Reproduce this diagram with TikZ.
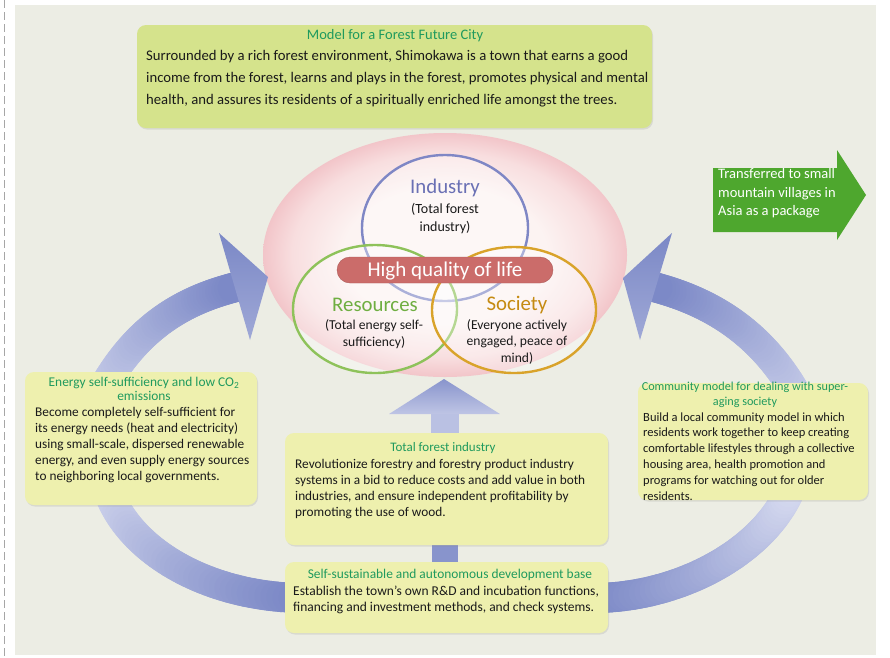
\documentclass[tikz,border=0pt]{standalone}
\usepackage{fontspec}
\setmainfont{Carlito}
\usetikzlibrary{shadows}
\definecolor{panelc}{HTML}{ECEDE4}
\definecolor{topboxc}{HTML}{D5E38C}
\definecolor{boxc}{HTML}{EEF0AE}
\definecolor{titlec}{HTML}{1F9A5E}
\definecolor{txtc}{HTML}{1A1A1A}
\definecolor{bandlight}{HTML}{D5D9EF}
\definecolor{banddark}{HTML}{7B88C6}
\definecolor{pkin}{HTML}{FCF3F2}
\definecolor{pkmid}{HTML}{F8DEDF}
\definecolor{pkout}{HTML}{F2C5C9}
\definecolor{indc}{HTML}{7F87C5}
\definecolor{resc}{HTML}{8EC25A}
\definecolor{socc}{HTML}{D9A32A}
\definecolor{indtxt}{HTML}{6A70B4}
\definecolor{restxt}{HTML}{6FAE41}
\definecolor{soctxt}{HTML}{C58B12}
\definecolor{barc}{HTML}{CB6C6A}
\definecolor{greenarr}{HTML}{4EA72E}
\pgfdeclareradialshading{pinkglow}{\pgfpoint{0bp}{0bp}}{color(0bp)=(pkin); color(14bp)=(pkin); color(21bp)=(pkmid); color(25bp)=(pkout); color(50bp)=(pkout)}
\newcommand\mylines[2]{\begin{tabular}[t]{@{}#1@{}}#2\end{tabular}}
\newcommand\gband[8]{%
  \foreach \i in {1,...,48}{%
    \pgfmathsetmacro\ta{(\i-1)/48}%
    \pgfmathsetmacro\tb{\i/48}%
    \pgfmathsetmacro\xa{(1-\ta)^3*#1+3*(1-\ta)^2*\ta*#3+3*(1-\ta)*\ta^2*#5+\ta^3*#7}%
    \pgfmathsetmacro\ya{(1-\ta)^3*#2+3*(1-\ta)^2*\ta*#4+3*(1-\ta)*\ta^2*#6+\ta^3*#8}%
    \pgfmathsetmacro\xb{(1-\tb)^3*#1+3*(1-\tb)^2*\tb*#3+3*(1-\tb)*\tb^2*#5+\tb^3*#7}%
    \pgfmathsetmacro\yb{(1-\tb)^3*#2+3*(1-\tb)^2*\tb*#4+3*(1-\tb)*\tb^2*#6+\tb^3*#8}%
    \pgfmathtruncatemacro\pc{100*(\i-0.5)/48}%
    \draw[line width=30pt, line cap=round, draw=bandB!\pc!bandA] (\xa,\ya) -- (\xb,\yb);
  }%
}
\begin{document}
\begin{tikzpicture}[x=1pt,y=-1pt,
  box/.style={fill=boxc, rounded corners=9pt, inner sep=0, draw=none,
    drop shadow={opacity=0.18, shadow xshift=1pt, shadow yshift=-1.5pt}},
  txl/.style={inner sep=0, anchor=base west, text=txtc},
  ttl/.style={inner sep=0, anchor=base, text=titlec, font=\fontsize{13.4}{14.5}\selectfont},
  body/.style={font=\fontsize{13.3}{16}\selectfont},
  label/.style={inner sep=0, anchor=base, font=\fontsize{20.8}{22}\selectfont},
  paren/.style={inner sep=0, anchor=base, text=txtc, font=\fontsize{13.6}{17.5}\selectfont},
  ring/.style={line width=2.4pt, fill=white, fill opacity=0.35}]
\useasboundingbox (0,0) rectangle (890,657);
% page edge and panel
\draw[gray!70, line width=0.9pt, dash pattern=on 8pt off 4pt] (4,0) -- (4,657);
\fill[panelc] (15,5) rectangle (876,655);

% lower ring arcs
\colorlet{bandA}{bandlight}\colorlet{bandB}{banddark}
\gband{105}{480}{120}{545}{200}{596}{300}{598}
\colorlet{bandA}{banddark}\colorlet{bandB}{bandlight}
\gband{600}{598}{690}{595}{770}{545}{792}{485}

% pink glow
\shade[shading=pinkglow] (445,255) ellipse [x radius=182, y radius=122];

% left and right curved arrows
\colorlet{bandA}{bandlight!80!banddark}\colorlet{bandB}{banddark}
\gband{105}{385}{140}{325}{185}{300}{236}{287}
\gband{795}{392}{760}{332}{711}{302}{654}{287}
\shade[top color=banddark, bottom color=banddark!60!bandlight] (219,233) -- (268,277) -- (250,340) -- cycle;
\shade[top color=banddark, bottom color=banddark!60!bandlight] (672,233) -- (623,278) -- (640,340) -- cycle;

% up arrow and connector bar
\fill[bandlight!70!banddark] (431,412) rectangle (459,434);
\shade[top color=banddark!85!bandlight, bottom color=bandlight!75!banddark] (389,414) -- (444,379) -- (500,414) -- cycle;
\fill[banddark!85!bandlight] (432,544) rectangle (458,563);

% top box
\node[box, fill=topboxc, minimum width=515pt, minimum height=103pt] (topbox) at (394.5,76.5) {};
\node[inner sep=0, anchor=base, text=titlec, font=\fontsize{14.5}{16}\selectfont] (toptitle) at (395,39.8) {Model for a Forest Future City};
\node[txl, font=\fontsize{14.7}{22}\selectfont] (topbody) at (146,60.7) {\mylines{l}{Surrounded by a rich forest environment, Shimokawa is a town that earns a good\\
income from the forest, learns and plays in the forest, promotes physical and mental\\
health, and assures its residents of a spiritually enriched life amongst the trees.}};

% green arrow
\fill[greenarr] (713,168) -- (837,168) -- (837,150) -- (866,195) -- (837,240) -- (837,232) -- (713,232) -- cycle;
\node[txl, text=white, font=\fontsize{14.5}{18.5}\selectfont] (transfer) at (718,178.8) {\mylines{l}{Transferred to small\\mountain villages in\\Asia as a package}};

% circles
\draw[ring, draw=indc] (445,228) ellipse [x radius=83, y radius=73];
\draw[ring, draw=resc] (375,309) ellipse [x radius=82, y radius=64];
\draw[ring, draw=socc] (514,310) ellipse [x radius=82, y radius=63];
\node[fill=barc, draw=barc!85!black, line width=0.4pt, rounded corners=13pt, minimum width=216pt, minimum height=26pt, inner sep=0] (hql) at (445,270) {};
\node[inner sep=0, anchor=base, text=white, font=\fontsize{21}{22}\selectfont] (hqltxt) at (445,276.5) {High quality of life};

\node[label, text=indtxt] (industry) at (445,193) {Industry};
\node[paren, font=\fontsize{14}{18.5}\selectfont] (indsub) at (445,213.3) {\mylines{c}{(Total forest\\industry)}};
\node[label, text=restxt] (resources) at (375,311) {Resources};
\node[paren, font=\fontsize{13.6}{17}\selectfont] (ressub) at (374,329.2) {\mylines{c}{(Total energy self-\\sufficiency)}};
\node[label, text=soctxt] (society) at (517,310) {Society};
\node[paren, font=\fontsize{13.6}{16.5}\selectfont] (socsub) at (517,329.2) {\mylines{c}{(Everyone actively\\engaged, peace of\\mind)}};

% energy box
\node[box, minimum width=232pt, minimum height=133pt] (energybox) at (141,438.5) {};
\node[ttl] (energyttl) at (144,386.3) {\mylines{c}{Energy self-sufficiency and low CO\textsubscript{2}\\emissions}};
\node[txl, body] (energybody) at (35,416.3) {\mylines{l}{Become completely self-sufficient for\\its energy needs (heat and electricity)\\using small-scale, dispersed renewable\\energy, and even supply energy sources\\to neighboring local governments.}};

% community box
\node[box, minimum width=230pt, minimum height=117pt] (commbox) at (753,441.5) {};
\node[ttl, font=\fontsize{12.2}{15}\selectfont] (commttl) at (745,390) {\mylines{c}{Community model for dealing with super-\\aging society}};
\node[txl, font=\fontsize{12.5}{15.8}\selectfont] (commbody) at (643,421) {\mylines{l}{Build a local community model in which\\residents work together to keep creating\\comfortable lifestyles through a collective\\housing area, health promotion and\\programs for watching out for older\\residents.}};

% forest box
\node[box, minimum width=323pt, minimum height=112pt] (forestbox) at (446.5,489) {};
\node[ttl, font=\fontsize{13}{15}\selectfont] (forestttl) at (443,451) {Total forest industry};
\node[txl, body] (forestbody) at (295,468.3) {\mylines{l}{Revolutionize forestry and forestry product industry\\systems in a bid to reduce costs and add value in both\\industries, and ensure independent profitability by\\promoting the use of wood.}};

% base box
\node[box, minimum width=323pt, minimum height=71pt] (basebox) at (446.5,597.5) {};
\node[ttl, font=\fontsize{13.4}{15}\selectfont] (basettl) at (450,578.2) {Self-sustainable and autonomous development base};
\node[txl, font=\fontsize{13.5}{16}\selectfont] (basebody) at (293,595.2) {\mylines{l}{Establish the town’s own R\&D and incubation functions,\\financing and investment methods, and check systems.}};
\end{tikzpicture}
\end{document}
